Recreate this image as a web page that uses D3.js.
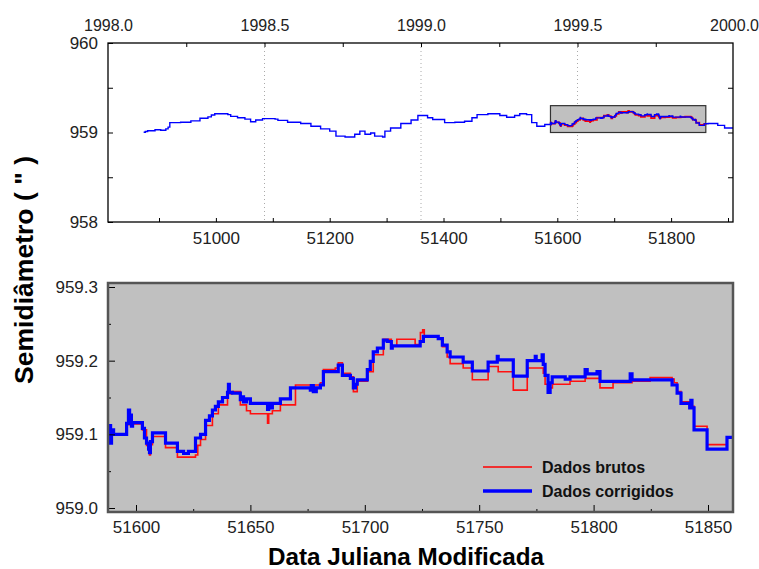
<!DOCTYPE html>
<html><head><meta charset="utf-8">
<script src="https://cdn.jsdelivr.net/npm/d3@7"></script>
<style>
body{margin:0;background:#fff;}
svg{display:block;font-family:"Liberation Sans",Arial,sans-serif;}
</style></head>
<body><svg id="c" width="759" height="569"></svg>
<script>
// ---------- DATA ----------
const yearTicks = [1998.0, 1998.5, 1999.0, 1999.5, 2000.0];
const yearGrid = [1998.5, 1999.0, 1999.5];
const topMjdTicks = [51000, 51200, 51400, 51600, 51800];
const topValTicks = [958, 959, 960];
const zoomMjdTicks = [51600, 51650, 51700, 51750, 51800, 51850];
const zoomValTicks = [959.0, 959.1, 959.2, 959.3];
const zoomBox = [51588, 51861, 959.0, 959.3];

// long series (corrected), outside the zoomed interval
const longBeforeMjd = [50873,50876,50880,50893,50903,50912,50916,50919,50938,50956,50972,50986,50992,50998,51016,51021,51026,51038,51051,51061,51070,51082,51104,51109,51126,51149,51167,51184,51200,51211,51227,51244,51253,51262,51272,51279,51293,51297,51307,51325,51343,51355,51372,51381,51402,51420,51437,51450,51459,51478,51499,51511,51525,51534,51546,51555,51564,51578];
const longBeforeVal = [959.003,959.012,959.020,959.030,959.025,959.040,959.060,959.110,959.115,959.130,959.160,959.175,959.195,959.210,959.210,959.200,959.180,959.165,959.150,959.120,959.140,959.155,959.150,959.135,959.115,959.100,959.070,959.040,959.015,958.960,958.950,958.980,959.015,958.980,958.995,958.960,958.950,959.015,959.050,959.100,959.140,959.190,959.165,959.145,959.110,959.115,959.125,959.165,959.200,959.210,959.190,959.170,959.190,959.210,959.200,959.110,959.070,959.090];
const longAfterMjd = [51865,51882,51894,51910];
const longAfterVal = [959.100,959.080,959.050,959.050];

// zoomed interval: corrected data (Dados corrigidos)
const corrMjd = [51588.0,51588.4,51588.9,51589.3,51590.2,51595.9,51596.7,51597.2,51597.6,51598.0,51598.5,51602.8,51603.7,51604.6,51605.5,51605.9,51606.3,51607.2,51612.9,51618.1,51620.8,51622.9,51626.0,51628.2,51630.4,51632.1,51633.4,51634.7,51636.0,51637.8,51640.0,51640.4,51640.8,51642.1,51645.6,51646.1,51647.0,51648.3,51650.0,51656.6,51657.5,51658.0,51658.7,51659.6,51663.1,51667.5,51676.2,51676.6,51677.5,51678.8,51680.6,51681.9,51687.1,51688.4,51690.2,51693.7,51695.0,51695.9,51696.7,51701.1,51702.4,51703.7,51705.5,51708.1,51709.8,51711.6,51712.0,51724.2,51725.6,51732.1,51733.9,51736.0,51737.3,51743.0,51747.0,51753.9,51757.9,51758.3,51764.9,51771.0,51774.5,51774.9,51777.5,51778.0,51778.8,51780.1,51781.0,51781.9,51787.6,51789.7,51796.3,51797.2,51801.5,51802.8,51816.0,51816.8,51834.3,51836.5,51838.2,51842.0,51842.5,51843.0,51843.9,51849.6,51858.3,51861.0];
const corrVal = [959.100,959.112,959.088,959.106,959.100,959.115,959.133,959.115,959.126,959.111,959.116,959.108,959.095,959.088,959.080,959.075,959.090,959.102,959.088,959.077,959.074,959.077,959.095,959.100,959.119,959.125,959.133,959.138,959.144,959.150,959.157,959.168,959.157,959.156,959.147,959.151,959.144,959.148,959.142,959.142,959.134,959.142,959.136,959.142,959.148,959.163,959.160,959.166,959.158,959.163,959.167,959.185,959.185,959.194,959.180,959.176,959.163,959.168,959.174,959.188,959.199,959.212,959.217,959.228,959.226,959.217,959.220,959.226,959.233,959.230,959.221,959.212,959.205,959.198,959.186,959.198,959.206,959.201,959.179,959.200,959.206,959.200,959.208,959.195,959.180,959.157,959.170,959.178,959.175,959.178,959.188,959.182,959.185,959.172,959.182,959.174,959.167,959.156,959.142,959.136,959.146,959.136,959.106,959.080,959.096,959.098];

// zoomed interval: raw data (Dados brutos)
const rawMjd = [51588.0,51588.4,51588.9,51589.3,51590.2,51595.9,51596.7,51597.2,51598.5,51602.8,51604.6,51605.9,51606.3,51607.2,51612.9,51618.1,51626.0,51627.0,51628.2,51630.4,51633.4,51636.0,51640.0,51642.1,51645.6,51648.3,51650.0,51657.5,51658.0,51659.6,51663.1,51669.7,51680.6,51681.9,51687.1,51688.4,51690.2,51693.7,51695.0,51696.7,51701.1,51703.7,51708.1,51711.6,51714.0,51722.0,51724.3,51725.3,51726.0,51732.1,51733.9,51736.0,51737.3,51743.0,51747.0,51753.9,51758.3,51764.9,51771.0,51775.0,51778.0,51778.8,51780.1,51781.0,51782.0,51787.6,51789.7,51796.3,51801.5,51802.8,51808.5,51816.0,51816.8,51824.7,51834.3,51835.2,51836.5,51838.2,51842.0,51843.9,51849.6,51858.3,51861.0];
const rawVal = [959.100,959.110,959.090,959.104,959.100,959.113,959.128,959.113,959.114,959.106,959.085,959.072,959.086,959.097,959.082,959.069,959.072,959.085,959.093,959.112,959.128,959.140,959.155,959.158,959.140,959.132,959.128,959.115,959.128,959.132,959.140,959.167,959.170,959.188,959.190,959.197,959.183,959.178,959.158,959.172,959.185,959.208,959.229,959.220,959.229,959.222,959.238,959.242,959.232,959.230,959.219,959.205,959.196,959.190,959.174,959.192,959.185,959.160,959.190,959.190,959.183,959.168,959.157,959.163,959.168,959.168,959.172,959.176,959.176,959.163,959.170,959.170,959.172,959.177,959.175,959.170,959.158,959.144,959.138,959.111,959.086,959.096,959.098];

// ---------- DRAW ----------
const svg = d3.select("#c");
const tickCol = "#222";

// Top panel geometry
const T = {l:108, r:733, t:43, b:222};
const xTop = d3.scaleLinear().domain([50900, 51900]).range([159, 728]);
const yTop = d3.scaleLinear().domain([958, 960]).range([T.b, T.t]);
const xYear = d3.scaleLinear().domain([1998, 2000]).range([108, 734]);

// Bottom panel geometry
const B = {l:108, r:733, t:283, b:512};
const xBot = d3.scaleLinear().domain([51600, 51850]).range([136, 708]);
const yBot = d3.scaleLinear().domain([959.0, 959.3]).range([508, 287]);

function styleAxis(g, size){
  g.select(".domain").remove();
  g.selectAll("line").attr("stroke","#000");
  g.selectAll("text").attr("fill",tickCol).style("font-size",size+"px").style("font-family","'Liberation Sans',Arial,sans-serif");
}

// ===== top panel =====
svg.append("rect").attr("x",T.l).attr("y",T.t).attr("width",T.r-T.l).attr("height",T.b-T.t).attr("fill","#fff");
svg.append("g").selectAll("line").data(yearGrid).join("line")
  .attr("x1",d=>xYear(d)).attr("x2",d=>xYear(d)).attr("y1",T.t).attr("y2",T.b)
  .attr("stroke","#aaa").attr("stroke-width",1).attr("stroke-dasharray","1,3");

svg.append("rect").attr("x",xTop(zoomBox[0])).attr("y",yTop(zoomBox[3]))
  .attr("width",xTop(zoomBox[1])-xTop(zoomBox[0])).attr("height",yTop(zoomBox[2])-yTop(zoomBox[3]))
  .attr("fill","#c0c0c0").attr("stroke","#333").attr("stroke-width",1.2);

const topSeries = longBeforeMjd.map((m,i)=>[m,longBeforeVal[i]])
  .concat(corrMjd.map((m,i)=>[m,corrVal[i]]))
  .concat(longAfterMjd.map((m,i)=>[m,longAfterVal[i]]));
const rawSeries = rawMjd.map((m,i)=>[m,rawVal[i]]);
const corrSeries = corrMjd.map((m,i)=>[m,corrVal[i]]);

svg.append("defs").append("clipPath").attr("id","clipT").append("rect")
  .attr("x",T.l).attr("y",T.t).attr("width",T.r-T.l).attr("height",T.b-T.t);
const lineTop = d3.line().x(d=>xTop(d[0])).y(d=>yTop(d[1])).curve(d3.curveStepAfter);
const gT = svg.append("g").attr("clip-path","url(#clipT)");
gT.append("path").datum(rawSeries).attr("d",lineTop).attr("fill","none").attr("stroke","#ff0000").attr("stroke-width",1.8);
gT.append("path").datum(topSeries).attr("d",lineTop).attr("fill","none").attr("stroke","#0000ff").attr("stroke-width",1.4);

const axTB = svg.append("g").attr("transform",`translate(0,${T.b})`)
  .call(d3.axisBottom(xTop).tickValues(topMjdTicks).tickFormat(d3.format("d")).tickSize(-4).tickPadding(10));
styleAxis(axTB,17);
const axTBm = svg.append("g").attr("transform",`translate(0,${T.b})`)
  .call(d3.axisBottom(xTop).tickValues(d3.range(50900,51901,200)).tickFormat("").tickSize(-4));
styleAxis(axTBm,17);
const axTT = svg.append("g").attr("transform",`translate(0,${T.t})`)
  .call(d3.axisTop(xYear).tickValues(yearTicks).tickFormat(d3.format(".1f")).tickSize(-4).tickPadding(12));
styleAxis(axTT,16);
axTT.selectAll("line").filter(d=>d===1998||d===2000).remove();
const axTTm = svg.append("g").attr("transform",`translate(0,${T.t})`)
  .call(d3.axisTop(xYear).tickValues([1998.25,1998.75,1999.25,1999.75]).tickFormat("").tickSize(-4));
styleAxis(axTTm,16);
const axTL = svg.append("g").attr("transform",`translate(${T.l},0)`)
  .call(d3.axisLeft(yTop).tickValues(topValTicks).tickFormat(d3.format("d")).tickSize(-5).tickPadding(10));
styleAxis(axTL,17);
const axTLm = svg.append("g").attr("transform",`translate(${T.l},0)`)
  .call(d3.axisLeft(yTop).tickValues([958.5,959.5]).tickFormat("").tickSize(-5));
styleAxis(axTLm,17);
const axTR = svg.append("g").attr("transform",`translate(${T.r},0)`)
  .call(d3.axisRight(yTop).tickValues([958.5,959,959.5]).tickFormat("").tickSize(-5));
styleAxis(axTR,17);
svg.append("rect").attr("x",T.l).attr("y",T.t).attr("width",T.r-T.l).attr("height",T.b-T.t)
  .attr("fill","none").attr("stroke","#000").attr("stroke-width",1.3);

// ===== bottom panel =====
svg.append("rect").attr("x",B.l).attr("y",B.t).attr("width",B.r-B.l).attr("height",B.b-B.t).attr("fill","#c0c0c0");
svg.append("defs").append("clipPath").attr("id","clipB").append("rect")
  .attr("x",B.l).attr("y",B.t).attr("width",B.r-B.l).attr("height",B.b-B.t);
const lineBot = d3.line().x(d=>xBot(d[0])).y(d=>yBot(d[1])).curve(d3.curveStepAfter);
const gB = svg.append("g").attr("clip-path","url(#clipB)");
gB.append("path").datum(rawSeries).attr("d",lineBot).attr("fill","none").attr("stroke","#ff1010").attr("stroke-width",1.6);
gB.append("path").datum(corrSeries).attr("d",lineBot).attr("fill","none").attr("stroke","#0000ff").attr("stroke-width",3.2);

const axBB = svg.append("g").attr("transform",`translate(0,${B.b})`)
  .call(d3.axisBottom(xBot).tickValues(zoomMjdTicks).tickFormat(d3.format("d")).tickSize(-7).tickPadding(9));
styleAxis(axBB,17);
const axBBm = svg.append("g").attr("transform",`translate(0,${B.b})`)
  .call(d3.axisBottom(xBot).tickValues([51625,51675,51725,51775,51825]).tickFormat("").tickSize(-3));
styleAxis(axBBm,17);
const axBL = svg.append("g").attr("transform",`translate(${B.l},0)`)
  .call(d3.axisLeft(yBot).tickValues(zoomValTicks).tickFormat(d3.format(".1f")).tickSize(-7).tickPadding(10));
styleAxis(axBL,17);
const axBLm = svg.append("g").attr("transform",`translate(${B.l},0)`)
  .call(d3.axisLeft(yBot).tickValues([959.05,959.15,959.25]).tickFormat("").tickSize(-3));
styleAxis(axBLm,17);
svg.append("rect").attr("x",B.l).attr("y",B.t).attr("width",B.r-B.l).attr("height",B.b-B.t)
  .attr("fill","none").attr("stroke","#555").attr("stroke-width",2.5);

// legend
const legend = [["Dados brutos","#ff0000",1.5],["Dados corrigidos","#0000ff",3.5]];
legend.forEach((l,i)=>{
  const y = 467 + i*24;
  svg.append("line").attr("x1",483).attr("x2",532).attr("y1",y).attr("y2",y).attr("stroke",l[1]).attr("stroke-width",l[2]);
  svg.append("text").attr("x",542).attr("y",y).attr("dy","0.35em").text(l[0])
    .style("font-weight","bold").style("font-size","16px").attr("fill","#111");
});

// titles
svg.append("text").attr("transform","translate(33,270) rotate(-90)").attr("text-anchor","middle")
  .attr("textLength",228).attr("lengthAdjust","spacingAndGlyphs")
  .style("font-weight","bold").style("font-size","25px").attr("fill","#000").text("Semidiâmetro ( \" )");
svg.append("text").attr("x",406).attr("y",557).attr("text-anchor","middle").attr("dy","0.35em")
  .attr("textLength",276).attr("lengthAdjust","spacingAndGlyphs")
  .style("font-weight","bold").style("font-size","24px").attr("fill","#000").text("Data Juliana Modificada");
</script></body></html>
